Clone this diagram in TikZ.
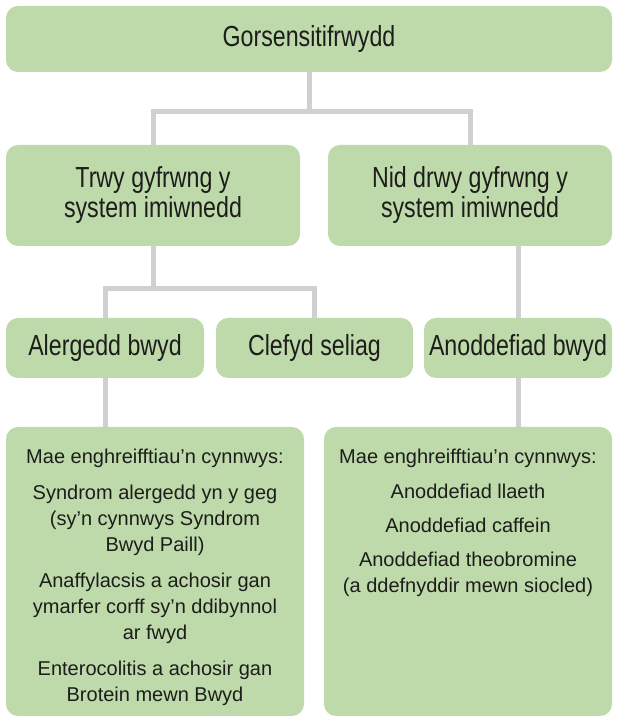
\documentclass[tikz,border=0pt]{standalone}
\usepackage{fontspec}
\setmainfont{Liberation Sans}[Ligatures=ResetAll]
\newfontfamily\condfont[FakeStretch=0.8]{Liberation Sans}
\usetikzlibrary{calc}
\definecolor{boxgreen}{RGB}{190,218,170}
\definecolor{linkgray}{RGB}{208,208,210}
\definecolor{inkblk}{RGB}{29,29,27}
\def\bigtxt{\condfont\fontsize{29}{30}\selectfont}
\def\smalltxt{\fontsize{20}{26}\selectfont}

\begin{document}
\begin{tikzpicture}[x=1pt, y=1pt,
  gbox/.style={fill=boxgreen, rounded corners=12pt, inner sep=0pt, align=center, text=inkblk},
  link/.style={draw=linkgray, line width=5pt}]
\useasboundingbox (0,0) rectangle (618,720);
% boxes
\node[gbox, minimum width=606, minimum height=66, font=\bigtxt] (top_nd) at (309,681) {Gorsensitifrwydd};
\node[gbox, minimum width=294, minimum height=101, font=\bigtxt] (trwy_nd) at (153,524.5) {Trwy gyfrwng y\\system imiwnedd};
\node[gbox, minimum width=284, minimum height=101, font=\bigtxt] (nid_nd) at (470,524.5) {Nid drwy gyfrwng y\\system imiwnedd};
\node[gbox, minimum width=198, minimum height=60, font=\bigtxt] (alerg_nd) at (105,372) {Alergedd bwyd};
\node[gbox, minimum width=197, minimum height=60, font=\bigtxt] (clef_nd) at (314.5,372) {Clefyd seliag};
\node[gbox, minimum width=188, minimum height=60, font=\bigtxt] (anod_nd) at (518,372) {Anoddefiad bwyd};
\node[gbox] (ex1_nd) at (155,148.5) {\begin{minipage}[c][289pt][t]{298pt}\centering\smalltxt
  \vspace*{22pt}
  Mae enghreifftiau’n cynnwys:\\[10pt]
  Syndrom alergedd yn y geg\\(sy'n cynnwys Syndrom\\Bwyd Paill)\\[10pt]
  Anaffylacsis a achosir gan\\ymarfer corff sy'n ddibynnol\\ar fwyd\\[10pt]
  Enterocolitis a achosir gan\\Brotein mewn Bwyd
\end{minipage}};
\node[gbox] (ex2_nd) at (468,148.5) {\begin{minipage}[c][289pt][t]{288pt}\centering\smalltxt
  \vspace*{22pt}
  Mae enghreifftiau’n cynnwys:\\[9pt]
  Anoddefiad llaeth\\[8pt]
  Anoddefiad caffein\\[8pt]
  Anoddefiad theobromine\\(a ddefnyddir mewn siocled)
\end{minipage}};
% connectors
\draw[link] (top_nd.south) -- ++(0,-39) coordinate (fork_a);
\draw[link] (fork_a) -| (trwy_nd.north);
\draw[link] (fork_a) -| (nid_nd.north);
\draw[link] (trwy_nd.south) -- ++(0,-42) coordinate (fork_b);
\draw[link] (fork_b) -| (alerg_nd.north);
\draw[link] (fork_b) -| (clef_nd.north);
\draw[link] (anod_nd.north) -- (anod_nd.north |- nid_nd.south);
\draw[link] (alerg_nd.south) -- (alerg_nd.south |- ex1_nd.north);
\draw[link] (anod_nd.south) -- (anod_nd.south |- ex2_nd.north);
\end{tikzpicture}
\end{document}
